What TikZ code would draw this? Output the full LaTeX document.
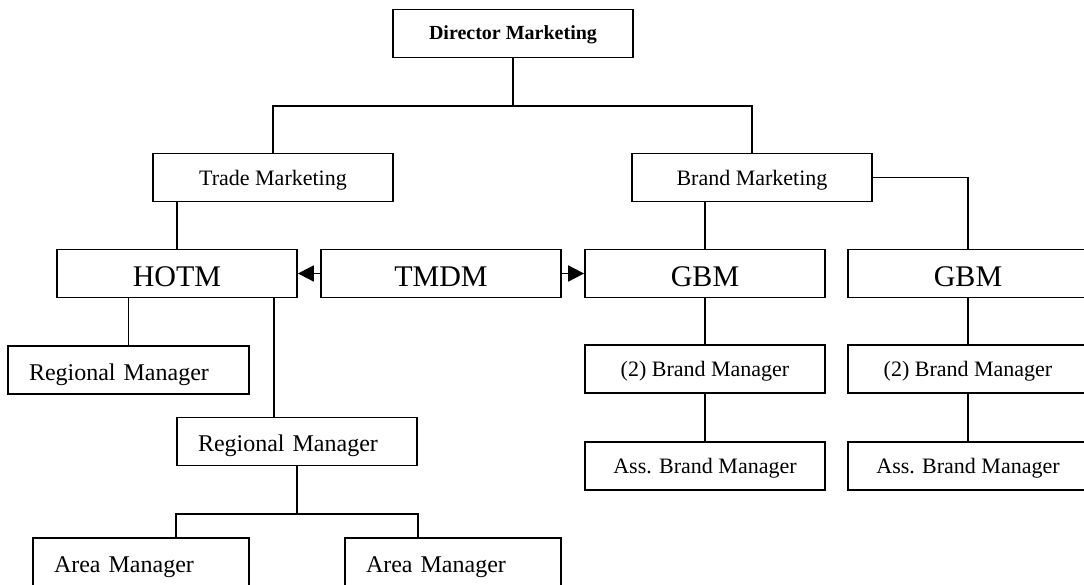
\documentclass[tikz,border=0pt]{standalone}
\usepackage{fontspec}
\setmainfont{Liberation Serif}
\usetikzlibrary{arrows.meta}

\tikzset{
  box/.style={draw, line width=1.8pt, minimum height=48pt, inner sep=0pt, text depth=0pt},
  wbox/.style={box, minimum width=240pt},
  lbox/.style={box, align=left, inner xsep=21pt, text width=#1},
  big/.style={font=\fontsize{30}{34}\selectfont, text height=26pt},
  mid/.style={font=\fontsize{24}{28}\selectfont, text height=20pt},
  small/.style={font=\fontsize{22}{26}\selectfont, text height=15.5pt},
  head/.style={font=\fontsize{20}{24}\selectfont\bfseries, text height=12.5pt},
  link/.style={line width=1.8pt},
  arr/.style={link, -{Triangle[length=16pt,width=16pt]}}
}

\begin{document}
\begin{tikzpicture}[x=1pt,y=-1pt]
  \useasboundingbox (0,0) rectangle (1084,585);
  \clip (0,0) rectangle (1084,585);

  % top level
  \node[wbox, head] (dm) at (513,33.5) {Director Marketing};
  \coordinate (bus) at (513,106);

  % departments
  \node[wbox, small] (tm) at (273,177.5) {Trade Marketing};
  \node[wbox, small] (bm) at (752,177.5) {Brand Marketing};

  % heads
  \node[wbox, big] (hotm) at (177,273.5) {HOTM};
  \node[wbox, big] (tmdm) at (441,273.5) {TMDM};
  \node[wbox, big] (gbmA) at (705,273.5) {GBM};
  \node[wbox, big] (gbmB) at (968,273.5) {GBM};

  % trade side
  \node[lbox=199pt, mid] (rmA) at (128.5,370) {Regional Manager};
  \node[lbox=198pt, mid] (rmB) at (297,441.5) {Regional Manager};
  \coordinate (abus) at (297,514);
  \node[lbox=174pt, mid] (amA) at (141,562) {Area Manager};
  \node[lbox=174pt, mid] (amB) at (453,562) {Area Manager};

  % brand side
  \node[wbox, small] (bmgA) at (705,369) {(2) Brand Manager};
  \node[wbox, small] (bmgB) at (968,369) {(2) Brand Manager};
  \node[wbox, small] (abmA) at (705,466) {Ass. Brand Manager};
  \node[wbox, small] (abmB) at (968,466) {Ass. Brand Manager};

  % connectors
  \draw[link] (dm.south) -- (bus);
  \draw[link] (tm.north) |- (bus) -| (bm.north);
  \draw[link] (tm.south -| hotm.north) -- (hotm.north);
  \draw[link] (bm.south -| gbmA.north) -- (gbmA.north);
  \draw[link] (bm.east) -| (gbmB.north);
  \draw[arr] (tmdm.west) -- (hotm.east);
  \draw[arr] (tmdm.east) -- (gbmA.west);

  \draw[link] (hotm.south -| rmA.north) -- (rmA.north);
  \draw[link] ([xshift=-24pt]hotm.south east) -- ([xshift=-24pt]hotm.south east |- rmB.north);
  \draw[link] (rmB.south) -- (abus);
  \draw[link] (amA.north -| rmB.west) |- (abus) -| (amB.north -| rmB.east);

  \draw[link] (gbmA.south) -- (bmgA.north);
  \draw[link] (bmgA.south) -- (abmA.north);
  \draw[link] (gbmB.south) -- (bmgB.north);
  \draw[link] (bmgB.south) -- (abmB.north);
\end{tikzpicture}
\end{document}
